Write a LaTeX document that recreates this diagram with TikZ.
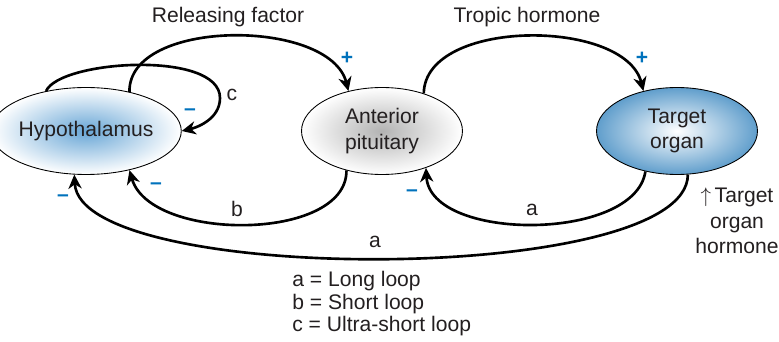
\documentclass[tikz,border=0pt]{standalone}
\usepackage{fontspec}
\setmainfont{Liberation Sans}
\usetikzlibrary{shapes.geometric,arrows.meta}
\definecolor{signblue}{RGB}{0,114,188}
\definecolor{hypblue}{RGB}{104,166,214}
\definecolor{orgblue}{RGB}{96,158,204}
\definecolor{inktext}{RGB}{35,31,32}
\begin{document}
\begin{tikzpicture}[
  x=0.02cm, y=0.02cm,
  font=\fontsize{12}{14.5}\selectfont, text=inktext,
  gland/.style={draw=black, ellipse, line width=0.5pt, minimum width=3.22cm,
    minimum height=1.74cm, inner sep=0pt, align=center},
  loop/.style={-{Stealth[length=8pt, width=7.5pt, inset=2.5pt]}, line width=1.5pt},
  sign/.style={text=signblue, font=\fontsize{12}{14}\selectfont\bfseries},
  tag/.style={inner sep=1pt}]
  \useasboundingbox (0,0) rectangle (779,342);
  % Glands
  \node[gland, inner color=hypblue, outer color=white] (hyp) at (86,211) {Hypothalamus};
  \node[gland, inner color=gray!60, outer color=white] (pit) at (382,211) {Anterior\\pituitary};
  \node[gland, inner color=white, outer color=orgblue] (tgt) at (677,211) {Target\\organ};
  % Stimulating arcs
  \draw[loop] (hyp.42) .. controls (128,324) and (330,324) .. (pit.130);
  \draw[loop] (pit.42) .. controls (425,324) and (625,324) .. (tgt.130);
  \node[tag] (rf) at (228,325) {Releasing factor};
  \node[tag] (th) at (527,325) {Tropic hormone};
  \node[sign] (p1) at (347,284) {+};
  \node[sign] (p2) at (642,284) {+};
  % Feedback loops
  \draw[loop] (hyp.135) .. controls (60,282) and (220,292) .. (220,244)
    .. controls (220,222) and (195,214) .. (hyp.0);
  \draw[loop] (pit.-132) .. controls (347,100) and (150,100) .. (hyp.-42);
  \draw[loop] (tgt.-128) .. controls (635,100) and (430,100) .. (pit.-40);
  \draw[loop] (tgt.-76) .. controls (688,56) and (80,56) .. (hyp.-105);
  \node[tag] (lc) at (232,247) {c};
  \node[tag] (lb) at (237,133) {b};
  \node[tag] (la1) at (532,132) {a};
  \node[tag] (la2) at (375,100) {a};
  \node[sign] (m1) at (190,230) {--};
  \node[sign] (m2) at (156,156) {--};
  \node[sign] (m3) at (412,149) {--};
  \node[sign] (m4) at (63,144) {--};
  \node[tag, align=center] (hormone) at (737,121) {\(\uparrow\)\,Target\\organ\\hormone};
  % Key
  \node[inner sep=0pt, align=left, anchor=west,
    font=\fontsize{12}{12.8}\selectfont] (key) at (292,38)
    {a = Long loop\\b = Short loop\\c = Ultra-short loop};
\end{tikzpicture}
\end{document}
